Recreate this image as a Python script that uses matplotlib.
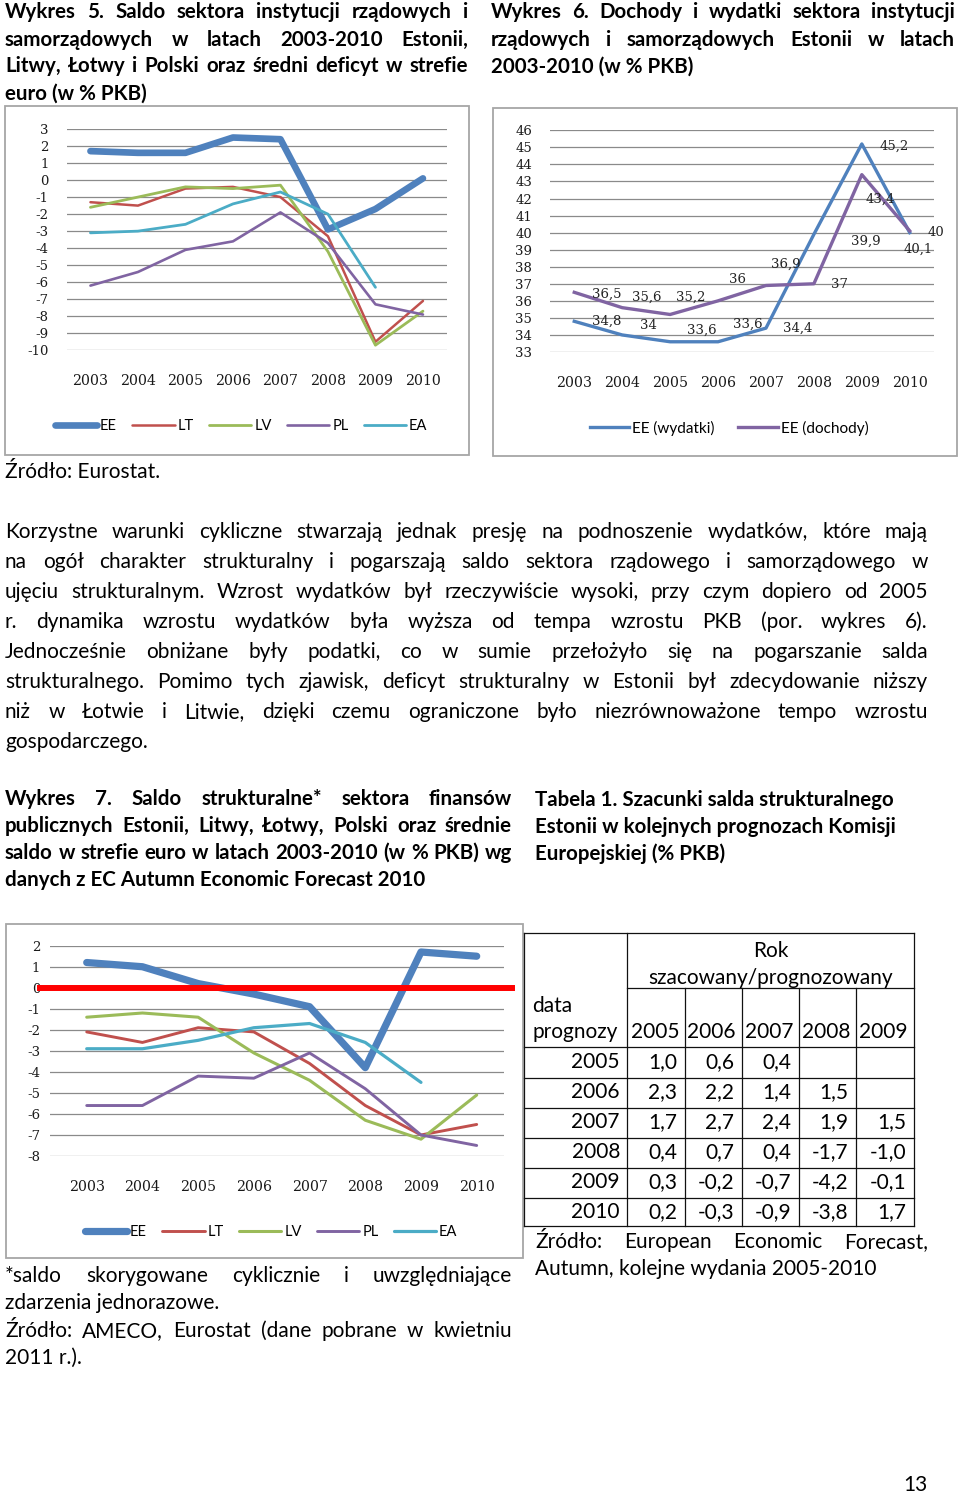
import numpy as np
import matplotlib
matplotlib.use("Agg")
import matplotlib.pyplot as plt
from matplotlib.lines import Line2D
from matplotlib.patches import Rectangle

plt.rcParams['axes.unicode_minus'] = False

W, H = 960, 1493
SANS = ['Lato', 'DejaVu Sans']
SERIF = ['DejaVu Serif']
BODY = 15.0
BOLD = 14.8

# ---- data ----
years = ['2003', '2004', '2005', '2006', '2007', '2008', '2009', '2010']
countries = ['EE', 'LT', 'LV', 'PL', 'EA']

# Wykres 5: saldo sektora (w % PKB)
w5_ee = [1.7, 1.6, 1.6, 2.5, 2.4, -2.9, -1.7, 0.1]
w5_lt = [-1.3, -1.5, -0.5, -0.4, -1.0, -3.3, -9.5, -7.1]
w5_lv = [-1.6, -1.0, -0.4, -0.5, -0.3, -4.2, -9.7, -7.7]
w5_pl = [-6.2, -5.4, -4.1, -3.6, -1.9, -3.7, -7.3, -7.9]
w5_ea = [-3.1, -3.0, -2.6, -1.4, -0.7, -2.0, -6.3, np.nan]

# Wykres 6: dochody i wydatki Estonii
w6_wydatki = [34.8, 34.0, 33.6, 33.6, 34.4, 39.9, 45.2, 40.0]
w6_dochody = [36.5, 35.6, 35.2, 36.0, 36.9, 37.0, 43.4, 40.1]
w6_names = ['EE (wydatki)', 'EE (dochody)']

# Wykres 7: saldo strukturalne
w7_ee = [1.2, 1.0, 0.2, -0.3, -0.9, -3.8, 1.7, 1.5]
w7_lt = [-2.1, -2.6, -1.9, -2.1, -3.6, -5.6, -7.0, -6.5]
w7_lv = [-1.4, -1.2, -1.4, -3.1, -4.4, -6.3, -7.2, -5.1]
w7_pl = [-5.6, -5.6, -4.2, -4.3, -3.1, -4.8, -7.0, -7.5]
w7_ea = [-2.9, -2.9, -2.5, -1.9, -1.7, -2.6, -4.5, np.nan]

# Tabela 1
tab_years = ['2005', '2006', '2007', '2008', '2009']
tab_rows = ['2005', '2006', '2007', '2008', '2009', '2010']
tab_vals = [
    [1.0, 0.6, 0.4, None, None],
    [2.3, 2.2, 1.4, 1.5, None],
    [1.7, 2.7, 2.4, 1.9, 1.5],
    [0.4, 0.7, 0.4, -1.7, -1.0],
    [0.3, -0.2, -0.7, -4.2, -0.1],
    [0.2, -0.3, -0.9, -3.8, 1.7],
]

# ---- styles ----
colors = {'EE': '#4F81BD', 'LT': '#C0504D', 'LV': '#9BBB59', 'PL': '#8064A2', 'EA': '#4BACC6'}
grid_c = '#8a8a8a'
box_c = '#a6a6a6'

fig = plt.figure(figsize=(W / 100, H / 100), dpi=100)
r = fig.canvas.get_renderer()


def fx(x):
    return x / W


def fy(y):
    return 1 - y / H


def add_ax(x0, y0, x1, y1):
    return fig.add_axes([fx(x0), fy(y1), (x1 - x0) / W, (y1 - y0) / H])


def text_lines(lines, x0, x1, y0, dy, size=BODY, weight='normal', justify=True):
    for i, line in enumerate(lines):
        y = y0 + i * dy
        words = line.split()
        last = i == len(lines) - 1
        if not justify or last or len(words) < 2:
            fig.text(fx(x0), fy(y), line, fontsize=size, fontweight=weight,
                     family=SANS, va='baseline', ha='left')
            continue
        arts = [fig.text(0, 0, w_, fontsize=size, fontweight=weight, family=SANS,
                         va='baseline', ha='left') for w_ in words]
        widths = [a.get_window_extent(r).width for a in arts]
        gap = (x1 - x0 - sum(widths)) / (len(words) - 1)
        x = x0
        for a, w_ in zip(arts, widths):
            a.set_position((fx(x), fy(y)))
            x += w_ + gap


def box(x0, y0, x1, y1):
    fig.add_artist(Rectangle((fx(x0), fy(y1)), (x1 - x0) / W, (y1 - y0) / H,
                             transform=fig.transFigure, fill=False,
                             edgecolor=box_c, lw=1.3))


def style_ax(ax, ylim, xlim, ypad, xpad=17):
    ax.set_ylim(*ylim)
    ax.set_xlim(*xlim)
    ax.set_yticks(np.arange(ylim[0], ylim[1] + 1))
    ax.set_xticks(range(len(years)))
    ax.set_xticklabels(years)
    for s in ax.spines.values():
        s.set_visible(False)
    ax.yaxis.grid(True, color=grid_c, lw=0.9)
    ax.set_axisbelow(True)
    ax.tick_params(length=0, colors='#1a1a1a')
    ax.tick_params(axis='y', pad=ypad, labelsize=9.5)
    ax.tick_params(axis='x', pad=xpad, labelsize=10.2)
    for lab in ax.get_xticklabels() + ax.get_yticklabels():
        lab.set_family(SERIF)
    ax.patch.set_alpha(0)


x = np.arange(len(years))

# ---- titles ----
text_lines(['Wykres 5. Saldo sektora instytucji rządowych i',
            'samorządowych w latach 2003-2010 Estonii,',
            'Litwy, Łotwy i Polski oraz średni deficyt w strefie',
            'euro (w % PKB)'], 5, 468, 18.5, 27, size=BOLD, weight='bold')
text_lines(['Wykres 6. Dochody i wydatki sektora instytucji',
            'rządowych i samorządowych Estonii w latach',
            '2003-2010 (w % PKB)'], 491, 955, 18.5, 27, size=BOLD, weight='bold')

# ---- Wykres 5 ----
box(5, 106, 469, 455)
ax1 = add_ax(66.7, 129, 446.7, 350.3)
series5 = [w5_ee, w5_lt, w5_lv, w5_pl, w5_ea]
widths5 = [4.8, 1.8, 2.0, 1.9, 2.0]
for name, vals, lw in zip(countries, series5, widths5):
    ax1.plot(x, vals, color=colors[name], lw=lw, label=name, solid_capstyle='round')
style_ax(ax1, (-10, 3), (-0.5, 7.5), ypad=13)
fig.legend(*ax1.get_legend_handles_labels(), loc='center', bbox_to_anchor=(fx(241), fy(426)),
           ncol=5, frameon=False, handlelength=2.9, handletextpad=0.2, columnspacing=1.05,
           prop={'family': SANS, 'size': 10.5})

# ---- Wykres 6 ----
box(493, 108, 957, 456)
ax2 = add_ax(550.3, 130.3, 933.7, 352)
ax2.plot(x, w6_wydatki, color=colors['EE'], lw=2.4, label=w6_names[0])
ax2.plot(x, w6_dochody, color=colors['PL'], lw=2.4, label=w6_names[1])
style_ax(ax2, (33, 46), (-0.5, 7.5), ypad=13)
off_wyd = [(32, 0), (26, 9), (32, 12), (30, 18), (32, 0), (52, -7), (32, -2), (26, 0)]
off_doch = [(32, -2), (25, 10), (21, 17), (19, 21), (20, 21), (26, -1), (18, -25), (8, -18)]
for vals, offs in [(w6_wydatki, off_wyd), (w6_dochody, off_doch)]:
    for xi, v, (dx, dy) in zip(x, vals, offs):
        lab = ('%g' % v).replace('.', ',')
        ax2.annotate(lab, (xi, v), xytext=(dx * 0.72, dy * 0.72), textcoords='offset points',
                     ha='center', va='center', fontsize=9.5, family=SERIF, color='#222222')
fig.legend(*ax2.get_legend_handles_labels(), loc='center', bbox_to_anchor=(fx(729), fy(428)),
           ncol=2, frameon=False, handlelength=2.6, handletextpad=0.2, columnspacing=1.5,
           prop={'family': SANS, 'size': 11})

# ---- source + paragraph ----
text_lines(['Źródło: Eurostat.'], 5, 400, 477.7, 30)
text_lines(['Korzystne warunki cykliczne stwarzają jednak presję na podnoszenie wydatków, które mają',
            'na ogół charakter strukturalny i pogarszają saldo sektora rządowego i samorządowego w',
            'ujęciu strukturalnym. Wzrost wydatków był rzeczywiście wysoki, przy czym dopiero od 2005',
            'r. dynamika wzrostu wydatków była wyższa od tempa wzrostu PKB (por. wykres 6).',
            'Jednocześnie obniżane były podatki, co w sumie przełożyło się na pogarszanie salda',
            'strukturalnego. Pomimo tych zjawisk, deficyt strukturalny w Estonii był zdecydowanie niższy',
            'niż w Łotwie i Litwie, dzięki czemu ograniczone było niezrównoważone tempo wzrostu',
            'gospodarczego.'], 5, 928, 537.7, 30)

text_lines(['Wykres 7. Saldo strukturalne* sektora finansów',
            'publicznych Estonii, Litwy, Łotwy, Polski oraz średnie',
            'saldo w strefie euro w latach 2003-2010 (w % PKB) wg',
            'danych z EC Autumn Economic Forecast 2010'], 5, 512, 805, 27, size=BOLD, weight='bold')
text_lines(['Tabela 1. Szacunki salda strukturalnego',
            'Estonii w kolejnych prognozach Komisji',
            'Europejskiej (% PKB)'], 535, 930, 806, 27, size=BOLD, weight='bold', justify=False)

# ---- Wykres 7 ----
box(6, 924, 523, 1258)
ax3 = add_ax(50, 945.7, 504, 1156)
series7 = [w7_ee, w7_lt, w7_lv, w7_pl, w7_ea]
widths7 = [5.2, 2.1, 2.2, 2.1, 2.3]
for name, vals, lw in zip(countries, series7, widths7):
    ax3.plot(x, vals, color=colors[name], lw=lw, label=name, solid_capstyle='round')
style_ax(ax3, (-8, 2), (-0.659, 7.49), ypad=7)
ax3.axhline(0, xmin=-0.022, xmax=1.0176, color='#FF0000', lw=4.3, clip_on=False, zorder=5)
fig.legend(*ax3.get_legend_handles_labels(), loc='center', bbox_to_anchor=(fx(271), fy(1232)),
           ncol=5, frameon=False, handlelength=2.9, handletextpad=0.2, columnspacing=1.05,
           prop={'family': SANS, 'size': 10.5})

text_lines(['*saldo skorygowane cyklicznie i uwzględniające',
            'zdarzenia jednorazowe.'], 5, 512, 1281.7, 27.4)
text_lines(['Źródło: AMECO, Eurostat (dane pobrane w kwietniu',
            '2011 r.).'], 5, 512, 1336.7, 27.4)

# ---- Tabela 1 ----
cols = [524, 627, 685, 742, 799, 856, 914]
row_lines = [1047, 1078, 1108, 1138, 1168, 1198, 1226]


def seg(xa, ya, xb, yb):
    fig.add_artist(Line2D([fx(xa), fx(xb)], [fy(ya), fy(yb)], transform=fig.transFigure,
                          color='#111111', lw=0.9))


seg(cols[0], 933, cols[-1], 933)
seg(cols[1], 988, cols[-1], 988)
for yl in row_lines:
    seg(cols[0], yl, cols[-1], yl)
for xc in (cols[0], cols[1], cols[-1]):
    seg(xc, 933, xc, 1226)
for xc in cols[2:-1]:
    seg(xc, 988, xc, 1226)

tkw = dict(fontsize=BODY, family=SANS, va='baseline')
fig.text(fx((cols[1] + cols[-1]) / 2), fy(956.7), 'Rok', ha='center', **tkw)
fig.text(fx((cols[1] + cols[-1]) / 2), fy(984), 'szacowany/prognozowany', ha='center', **tkw)
fig.text(fx(532), fy(1011.7), 'data', ha='left', **tkw)
fig.text(fx(532), fy(1038), 'prognozy', ha='left', **tkw)
for j, yr in enumerate(tab_years):
    fig.text(fx(cols[j + 2] - 6), fy(1038), yr, ha='right', **tkw)
for i, (ry, vals) in enumerate(zip(tab_rows, tab_vals)):
    yb = 1068.3 + 30 * i
    fig.text(fx(cols[1] - 7), fy(yb), ry, ha='right', **tkw)
    for j, v in enumerate(vals):
        if v is None:
            continue
        fig.text(fx(cols[j + 2] - 8), fy(yb), ('%.1f' % v).replace('.', ','), ha='right', **tkw)

text_lines(['Źródło: European Economic Forecast,',
            'Autumn, kolejne wydania 2005-2010'], 535, 928, 1248.3, 27)

fig.text(fx(928), fy(1491), '13', ha='right', **tkw)

fig.savefig('out.png', dpi=100)
